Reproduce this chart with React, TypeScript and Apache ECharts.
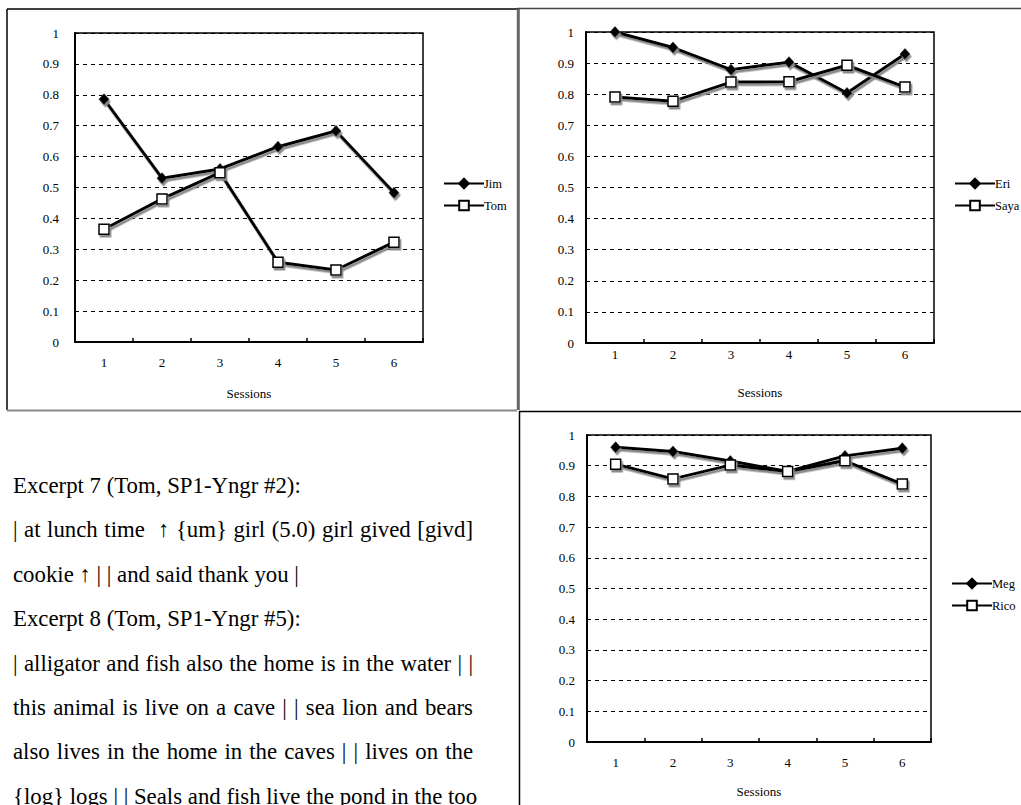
import React, { useEffect, useRef } from "react";
import * as echarts from "echarts";

const sessions = ["1", "2", "3", "4", "5", "6"];
const jim = [0.786, 0.53, 0.56, 0.632, 0.683, 0.483];
const tom = [0.365, 0.463, 0.548, 0.258, 0.233, 0.323];
const eri = [1.0, 0.95, 0.879, 0.903, 0.804, 0.929];
const saya = [0.791, 0.777, 0.839, 0.84, 0.893, 0.823];
const meg = [0.96, 0.946, 0.915, 0.881, 0.932, 0.957];
const rico = [0.905, 0.857, 0.902, 0.881, 0.916, 0.84];

const excerptLines = [
  "Excerpt 7 (Tom, SP1-Yngr #2):",
  "| at lunch time  \u2191 {um} girl (5.0) girl gived [givd]",
  "cookie \u2191 | | and said thank you |",
  "Excerpt 8 (Tom, SP1-Yngr #5):",
  "| alligator and fish also the home is in the water | |",
  "this animal is live on a cave | | sea lion and bears",
  "also lives in the home in the caves | | lives on the",
  "{log} logs | | Seals and fish live the pond in the too",
];
const justified = [false, true, false, false, true, true, true, true];

const FONT = "Liberation Serif";

export default function App() {
  const ref = useRef<HTMLDivElement>(null);
  useEffect(() => {
    if (!ref.current) return;
    const chart = echarts.init(ref.current, undefined, { renderer: "svg" });

    const grids = [
      { left: 75, top: 33, width: 348, height: 309, labelMargin: 14, nameGap: 45, yMargin: 16 },
      { left: 586, top: 32, width: 348, height: 311, labelMargin: 5, nameGap: 43, yMargin: 12 },
      { left: 587, top: 435, width: 344, height: 307, labelMargin: 14, nameGap: 43, yMargin: 12 },
    ];
    const pairs = [
      [["Jim", jim], ["Tom", tom]],
      [["Eri", eri], ["Saya", saya]],
      [["Meg", meg], ["Rico", rico]],
    ] as [string, number[]][][];
    const legendPos = [
      { left: 438, top: 172 },
      { left: 949, top: 172 },
      { left: 946, top: 572 },
    ];

    const shadow = { shadowColor: "#8a8a8a", shadowOffsetX: 1.5, shadowOffsetY: 2.5, shadowBlur: 0 };

    const series: any[] = [];
    pairs.forEach((pair, gi) => {
      pair.forEach(([name, data], si) => {
        series.push({
          type: "line",
          name,
          xAxisIndex: gi,
          yAxisIndex: gi,
          data,
          symbol: si === 0 ? "diamond" : "rect",
          symbolSize: si === 0 ? [10, 11] : 10,
          lineStyle: { color: "#000", width: 3, ...shadow },
          itemStyle:
            si === 0
              ? { color: "#000", borderColor: "#000", borderWidth: 0.5, ...shadow }
              : { color: "#fff", borderColor: "#000", borderWidth: 1.5, ...shadow },
          emphasis: { disabled: true },
        });
      });
    });

    const graphic: any[] = [
      // top-left frame
      { type: "line", shape: { x1: 7, y1: 9, x2: 517, y2: 9 }, style: { stroke: "#000", lineWidth: 1.5 } },
      { type: "line", shape: { x1: 7, y1: 9, x2: 7, y2: 410 }, style: { stroke: "#000", lineWidth: 1.5 } },
      { type: "line", shape: { x1: 7, y1: 410.5, x2: 517, y2: 410.5 }, style: { stroke: "#888", lineWidth: 2 } },
      { type: "line", shape: { x1: 518.3, y1: 9, x2: 518.3, y2: 410 }, style: { stroke: "#666", lineWidth: 3 } },
      // top-right frame
      { type: "line", shape: { x1: 517, y1: 8.5, x2: 1021, y2: 8.5 }, style: { stroke: "#444", lineWidth: 1.5 } },
      // bottom-right frame
      { type: "line", shape: { x1: 519, y1: 411.5, x2: 1021, y2: 411.5 }, style: { stroke: "#000", lineWidth: 1.5 } },
      { type: "line", shape: { x1: 519.5, y1: 411, x2: 519.5, y2: 805 }, style: { stroke: "#000", lineWidth: 1.5 } },
    ];

    const txt = { fontFamily: FONT, fontSize: 13, color: "#000" };

    chart.setOption({
      animation: false,
      backgroundColor: "#fff",
      textStyle: { fontFamily: FONT },
      grid: grids.map((g) => ({
        left: g.left,
        top: g.top,
        width: g.width,
        height: g.height,
        show: true,
        borderColor: "#000",
        borderWidth: 1.5,
        backgroundColor: "#fff",
      })),
      xAxis: grids.map((g, i) => ({
        type: "category",
        gridIndex: i,
        data: sessions,
        boundaryGap: true,
        name: "Sessions",
        nameLocation: "middle",
        nameGap: g.nameGap,
        nameTextStyle: txt,
        axisLine: { lineStyle: { color: "#000", width: 2 } },
        axisTick: { show: true, inside: true, length: 4, lineStyle: { color: "#000", width: 1.5 } },
        axisLabel: { margin: g.labelMargin, ...txt },
        splitLine: { show: false },
      })),
      yAxis: grids.map((g, i) => ({
        type: "value",
        gridIndex: i,
        min: 0,
        max: 1,
        interval: 0.1,
        axisLine: { show: true, lineStyle: { color: "#000", width: 2 } },
        axisTick: { show: false },
        axisLabel: { margin: g.yMargin, ...txt },
        splitLine: { show: true, lineStyle: { color: "#000", width: 1, type: [4, 4] } },
      })),
      legend: pairs.map((pair, gi) => ({
        orient: "vertical",
        left: legendPos[gi].left,
        top: legendPos[gi].top,
        itemWidth: 40,
        itemHeight: 12,
        itemGap: 9,
        data: pair.map((p) => p[0]),
        textStyle: { ...txt, fontSize: 12.5, padding: [0, 0, 0, -5] },
        selectedMode: false,
      })),
      series,
      graphic,
    });
    return () => chart.dispose();
  }, []);
  return (
    <div style={{ position: "fixed", left: 0, top: 0, width: 1021, height: 805, background: "#fff", overflow: "hidden" }}>
      <div ref={ref} style={{ position: "absolute", left: 0, top: 0, width: 1021, height: 805 }} />
      <div
        style={{
          position: "absolute",
          left: 13,
          top: 464,
          width: 460,
          fontFamily: '"Liberation Serif", "Times New Roman", serif',
          fontSize: 22.8,
          lineHeight: "44.4px",
          color: "#000",
          zIndex: 2,
        }}
      >
        {excerptLines.map((t, i) => (
          <div
            key={i}
            style={{
              whiteSpace: "pre",
              textAlign: justified[i] ? "justify" : "left",
              textAlignLast: justified[i] ? "justify" : "left",
              height: "44.4px",
            }}
          >
            {t}
          </div>
        ))}
      </div>
    </div>
  );
}
